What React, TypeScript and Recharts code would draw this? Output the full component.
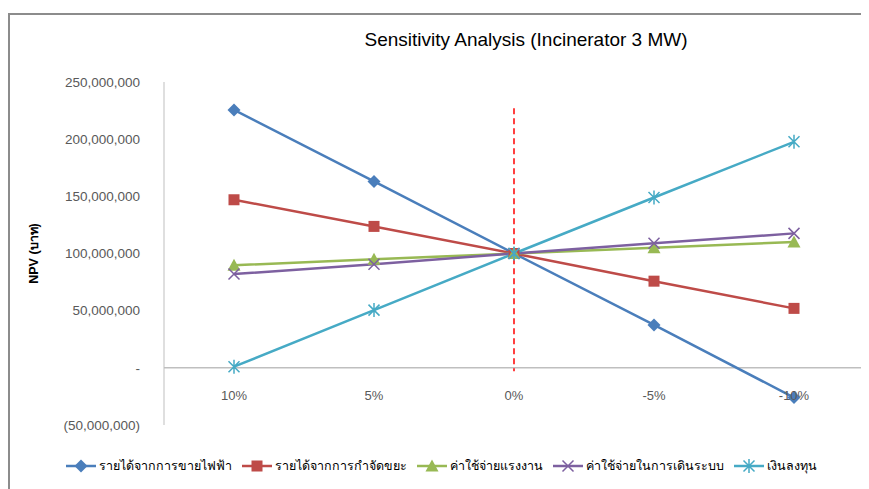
import React from 'react';
import { LineChart, Line, XAxis, YAxis, ReferenceLine } from 'recharts';

const categories = ['10%', '5%', '0%', '-5%', '-10%'];
const electricity = [225600000, 163000000, 100000000, 37500000, -26000000];
const wasteFee = [147000000, 123700000, 100000000, 75800000, 52000000];
const labour = [89700000, 95000000, 100000000, 105000000, 110000000];
const operating = [82000000, 90600000, 100000000, 108900000, 117600000];
const investment = [1000000, 50500000, 100000000, 149000000, 197700000];
const yTicks = [-50000000, 0, 50000000, 100000000, 150000000, 200000000, 250000000];

const series = [
  { key: 'electricity', name: 'รายได้จากการขายไฟฟ้า', color: '#4a7ebb', shape: 'diamond', values: electricity },
  { key: 'wasteFee', name: 'รายได้จากการกำจัดขยะ', color: '#be4b48', shape: 'square', values: wasteFee },
  { key: 'labour', name: 'ค่าใช้จ่ายแรงงาน', color: '#98b954', shape: 'triangle', values: labour },
  { key: 'operating', name: 'ค่าใช้จ่ายในการเดินระบบ', color: '#7d60a0', shape: 'x', values: operating },
  { key: 'investment', name: 'เงินลงทุน', color: '#46aac5', shape: 'star', values: investment },
];

const data = categories.map((c, i) => {
  const row: any = { name: c };
  series.forEach((s) => (row[s.key] = s.values[i]));
  return row;
});

const font = '"Liberation Sans", "DejaVu Sans", sans-serif';

const fmt = (v: number) => {
  if (v === 0) return '-';
  const s = Math.abs(v).toLocaleString('en-US');
  return v < 0 ? `(${s})` : s;
};

const Marker = ({ shape, color, cx, cy }: any) => {
  if (cx == null || cy == null) return null;
  switch (shape) {
    case 'diamond':
      return <path d={`M${cx},${cy - 6.5} L${cx + 6.5},${cy} L${cx},${cy + 6.5} L${cx - 6.5},${cy} Z`} fill={color} />;
    case 'square':
      return <rect x={cx - 5.5} y={cy - 5.5} width={11} height={11} fill={color} />;
    case 'triangle':
      return <path d={`M${cx},${cy - 6.5} L${cx + 6.5},${cy + 5.5} L${cx - 6.5},${cy + 5.5} Z`} fill={color} />;
    case 'x':
      return (
        <path d={`M${cx - 5.5},${cy - 5.5} L${cx + 5.5},${cy + 5.5} M${cx + 5.5},${cy - 5.5} L${cx - 5.5},${cy + 5.5}`} stroke={color} strokeWidth={1.5} />
      );
    default:
      return (
        <path
          d={`M${cx - 5.5},${cy - 5.5} L${cx + 5.5},${cy + 5.5} M${cx + 5.5},${cy - 5.5} L${cx - 5.5},${cy + 5.5} M${cx},${cy - 7} L${cx},${cy + 7}`}
          stroke={color}
          strokeWidth={1.5}
        />
      );
  }
};

const XTick = ({ x, y, payload }: any) => (
  <text x={x} y={y - 25} textAnchor="middle" fill="#595959" fontSize={13} fontFamily={font}>
    {payload.value}
  </text>
);

export default function App() {
  return (
    <div style={{ position: 'relative', width: 861, height: 481, fontFamily: font }}>
      <div
        style={{
          position: 'absolute',
          left: 0,
          top: 5,
          right: 0,
          bottom: 0,
          borderTop: '2px solid #8c8c8c',
          borderLeft: '2px solid #8c8c8c',
        }}
      />
      <div
        style={{
          position: 'absolute',
          left: 0,
          width: 1036,
          top: 21,
          textAlign: 'center',
          fontSize: 19,
          color: '#000',
        }}
      >
        Sensitivity Analysis (Incinerator 3 MW)
      </div>
      <LineChart width={861} height={481} data={data} margin={{ top: 74, right: 5, left: 0, bottom: 34 }} style={{ position: 'absolute', left: 0, top: 0 }}>
        <XAxis
          dataKey="name"
          axisLine={false}
          tickLine={false}
          tickSize={0}
          tickMargin={0}
          height={30}
          padding={{ left: 70, right: 70 }}
          tick={<XTick />}
        />
        <YAxis
          width={156}
          domain={[-50000000, 250000000]}
          ticks={yTicks}
          tickFormatter={fmt}
          axisLine={{ stroke: '#bfbfbf' }}
          tickLine={false}
          tickMargin={18}
          tick={{ fill: '#595959', fontSize: 13.5, fontFamily: font }}
          label={{ value: 'NPV (บาท)', angle: -90, position: 'insideLeft', offset: 26, style: { fill: '#000', fontSize: 12.5, fontWeight: 'bold', fontFamily: font, textAnchor: 'middle' } }}
        />
        <ReferenceLine y={0} stroke="#bfbfbf" strokeWidth={1.5} />
        <ReferenceLine
          segment={[
            { x: '0%', y: 227000000 },
            { x: '0%', y: -3000000 },
          ]}
          stroke="#ff0000"
          strokeWidth={1.5}
          strokeDasharray="6 4"
        />
        {series.map((s) => (
          <Line
            key={s.key}
            dataKey={s.key}
            name={s.name}
            stroke={s.color}
            strokeWidth={2.5}
            isAnimationActive={false}
            dot={(p: any) => <Marker key={p.index} shape={s.shape} color={s.color} cx={p.cx} cy={p.cy} />}
            activeDot={false}
          />
        ))}
      </LineChart>
      <div
        style={{
          position: 'absolute',
          left: 57,
          top: 448,
          display: 'flex',
          alignItems: 'center',
          fontSize: 12.5,
          color: '#000',
          whiteSpace: 'nowrap',
        }}
      >
        {series.map((s) => (
          <div key={s.key} style={{ display: 'flex', alignItems: 'center', marginRight: 9 }}>
            <svg width={32} height={16}>
              <line x1={1} y1={8} x2={31} y2={8} stroke={s.color} strokeWidth={2.5} />
              <Marker shape={s.shape} color={s.color} cx={16} cy={8} />
            </svg>
            <span style={{ marginLeft: 2 }}>{s.name}</span>
          </div>
        ))}
      </div>
    </div>
  );
}
